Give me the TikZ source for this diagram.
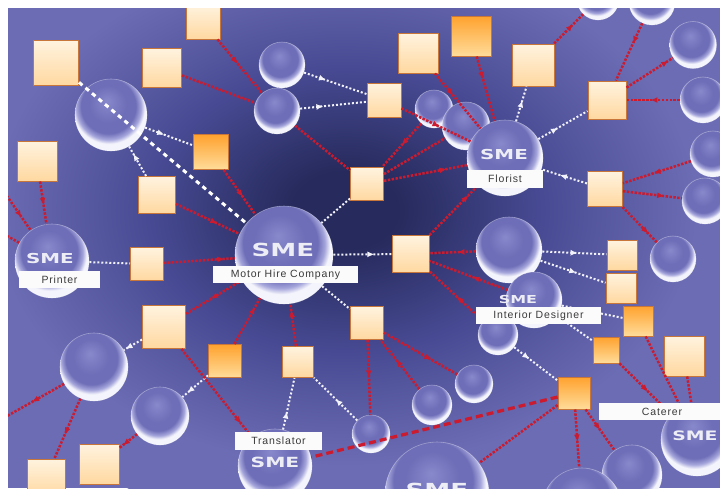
\documentclass[tikz,border=0pt]{standalone}
\usepackage{fontspec}
\usepackage{graphicx}
\usetikzlibrary{arrows.meta,decorations.markings}
\newfontfamily\labfont[LetterSpace=8]{Liberation Sans}
\newfontfamily\smefont{DejaVu Sans}

% palette
\definecolor{bgdark}{HTML}{262A5C}
\definecolor{bgmid}{HTML}{474A92}
\definecolor{bgedge}{HTML}{6C6CB4}
\definecolor{bubA}{HTML}{8888CC}
\definecolor{bubB}{HTML}{6E6EB8}
\definecolor{bubC}{HTML}{A6A6DC}
\definecolor{bubRim}{HTML}{F4F4FC}
\definecolor{sqline}{HTML}{C9763A}
\definecolor{sqtop}{HTML}{FFF3DF}
\definecolor{sqbot}{HTML}{FFD8A0}
\definecolor{ortop}{HTML}{FFA22E}
\definecolor{orbot}{HTML}{FFDC9A}
\definecolor{lred}{HTML}{CC1A2E}
\definecolor{wdot}{HTML}{F2F2FA}
\definecolor{tagtext}{HTML}{3A3A3A}
\definecolor{smetext}{HTML}{EDEDF6}

% glassy sphere: light body, bright crescent along the lower rim
% (the path's bounding box spans the inner 25bp radius of the shading)
\pgfdeclareradialshading{bubble}{\pgfpoint{-3bp}{10bp}}{color(0bp)=(bubA); color(13bp)=(bubB); color(19bp)=(bubB); color(22.5bp)=(bubC); color(25bp)=(bubRim); color(50bp)=(bubRim)}
% backdrop: dark navy core fading to lavender
\pgfdeclareradialshading{backdrop}{\pgfpoint{0bp}{0bp}}{color(0bp)=(bgdark); color(3bp)=(bgdark); color(11bp)=(bgmid); color(20bp)=(bgedge); color(50bp)=(bgedge)}

\newcommand{\smeT}[1]{\scalebox{1.45}[1]{\fontsize{#1}{#1}\selectfont\smefont\bfseries SME}}

\tikzset{
  bub/.style={circle, inner sep=0pt, shading=bubble, draw=white, draw opacity=0.35, line width=0.6pt},
  sqbox/.style={rectangle, inner sep=0pt, minimum size=#1, draw=sqline, line width=1pt, top color=sqtop, bottom color=sqbot},
  orbox/.style={sqbox=#1, top color=ortop, bottom color=orbot},
  rl/.style={color=lred, line width=2.5pt, dash pattern=on 2.4pt off 1.5pt},
  wl/.style={color=wdot, line width=2pt, dash pattern=on 2pt off 2pt},
  wd/.style={color=white, line width=3pt, dash pattern=on 4.5pt off 4pt},
  rd/.style={color=lred, line width=3.2pt, dash pattern=on 7pt off 4pt},
  ma/.style={postaction={decorate, decoration={markings, mark=at position #1 with {\arrow{Latex[length=7pt,width=6pt]}}}}},
  tag/.style={fill=white!97!gray, text=tagtext, inner sep=0pt, minimum height=17.5pt, font=\labfont\fontsize{10.5}{12}\selectfont},
  sme/.style={text=smetext, inner sep=0pt},
}

\begin{document}
\begin{tikzpicture}[x=1pt, y=-1pt]
\useasboundingbox (0,0) rectangle (720,488);
\fill[white] (0,0) rectangle (720,488);
\begin{scope}
\clip (8,8) rectangle (720,488);
\fill[bgedge] (8,8) rectangle (720,488);
\shade[shading=backdrop] (345,210) ellipse [x radius=440, y radius=320];

% ---- spheres ----
\node[bub, minimum size=72pt] (b1) at (111,115) {};
\node[bub, minimum size=46pt] (b2) at (282,65) {};
\node[bub, minimum size=46pt] (b3) at (277,111) {};
\node[bub, minimum size=38pt] (b4) at (434,109) {};
\node[bub, minimum size=48pt] (b5) at (466,126) {};
\node[bub, minimum size=76pt] (fl) at (505,158) {};
\node[bub, minimum size=98pt] (mh) at (284,255) {};
\node[bub, minimum size=42pt] (bt1) at (598,-1) {};
\node[bub, minimum size=46pt] (bt2) at (652,2) {};
\node[bub, minimum size=47pt] (br1) at (693,45) {};
\node[bub, minimum size=46pt] (br2) at (703,100) {};
\node[bub, minimum size=46pt] (br3) at (713,154) {};
\node[bub, minimum size=46pt] (br4) at (705,201) {};
\node[bub, minimum size=66pt] (b6) at (509,250) {};
\node[bub, minimum size=46pt] (b7) at (673,259) {};
\node[bub, minimum size=40pt] (b8) at (498,335) {};
\node[bub, minimum size=56pt] (id) at (534,300) {};
\node[bub, minimum size=38pt] (b9) at (474,384) {};
\node[bub, minimum size=40pt] (b10) at (432,405) {};
\node[bub, minimum size=38pt] (b11) at (371,434) {};
\node[bub, minimum size=104pt] (bb) at (437,494) {};
\node[bub, minimum size=60pt] (b13) at (632,475) {};
\node[bub, minimum size=80pt] (b12) at (582,508) {};
\node[bub, minimum size=72pt] (ct) at (697,440) {};
\node[bub, minimum size=74pt] (tr) at (275,466) {};
\node[bub, minimum size=74pt] (pr) at (52,261) {};
\node[bub, minimum size=68pt] (b14) at (94,367) {};
\node[bub, minimum size=58pt] (b15) at (160,416) {};

% ---- boxes ----
\node[sqbox=34pt] (s1) at (203,22) {};
\node[sqbox=45pt] (s2) at (56,63) {};
\node[sqbox=39pt] (s3) at (162,68) {};
\node[sqbox=40pt] (s4) at (37,161) {};
\node[orbox=35pt] (o1) at (211,152) {};
\node[sqbox=37pt] (s5) at (157,195) {};
\node[sqbox=33pt] (s6) at (367,184) {};
\node[sqbox=40pt] (s7) at (418,53) {};
\node[orbox=40pt] (o2) at (471,36) {};
\node[sqbox=42pt] (s8) at (533,65) {};
\node[sqbox=34pt] (s9) at (384,100) {};
\node[sqbox=38pt] (s10) at (607,100) {};
\node[sqbox=35pt] (s11) at (605,189) {};
\node[sqbox=37pt] (s12) at (411,254) {};
\node[sqbox=30pt] (s13) at (622,255) {};
\node[sqbox=30pt] (s14) at (621,288) {};
\node[orbox=30pt] (o3) at (638,321) {};
\node[sqbox=40pt] (s15) at (684,356) {};
\node[orbox=26pt] (o4) at (606,350) {};
\node[orbox=32pt] (o5) at (574,393) {};
\node[sqbox=33pt] (s16) at (367,323) {};
\node[sqbox=33pt] (s17) at (147,264) {};
\node[sqbox=43pt] (s18) at (164,327) {};
\node[orbox=33pt] (o6) at (225,361) {};
\node[sqbox=31pt] (s19) at (298,362) {};
\node[sqbox=40pt] (s20) at (99,464) {};
\node[sqbox=38pt] (s21) at (46,478) {};

\coordinate (edgeA) at (0,420);
\coordinate (edgeB) at (0,186);
\coordinate (edgeC) at (0,232);

% ---- links ----
\draw[wd] (s2) -- (mh);
\draw[wl, ma=0.4] (b1) -- (o1);
\draw[wl, ma=0.75] (s5) -- (b1);
\draw[rl, ma=0.65] (s5) -- (mh);
\draw[rl, ma=0.6] (o1) -- (mh);
\draw[rl, ma=0.45] (s1) -- (b3);
\draw[rl] (s3) -- (b3);
\draw[rl] (b3) -- (s6);
\draw[wl, ma=0.35] (b2) -- (s9);
\draw[wl, ma=0.35] (b3) -- (s9);
\draw[wl] (s6) -- (mh);
\draw[rl, ma=0.5] (b4) -- (s6);
\draw[rl] (s6) -- (b5);
\draw[rl, ma=0.75] (s6) -- (fl);
\draw[rl, ma=0.55] (s9) -- (fl);
\draw[rl, ma=0.4] (s7) -- (fl);
\draw[rl, ma=0.35] (o2) -- (fl);
\draw[wl, ma=0.6] (fl) -- (s8);
\draw[wl, ma=0.4] (fl) -- (s10);
\draw[wl, ma=0.6] (s11) -- (fl);
\draw[rl, ma=0.8] (s12) -- (fl);
\draw[rl, ma=0.65] (s8) -- (bt1);
\draw[rl, ma=0.35] (bt2) -- (s10);
\draw[rl, ma=0.9] (s10) -- (br1);
\draw[rl, ma=0.55] (br2) -- (s10);
\draw[rl, ma=0.55] (br3) -- (s11);
\draw[rl, ma=0.7] (s11) -- (br4);
\draw[rl, ma=0.75] (s11) -- (b7);
\draw[wl, ma=0.7] (mh) -- (s12);
\draw[rl, ma=0.4] (b6) -- (s12);
\draw[rl, ma=0.45] (id) -- (s12);
\draw[rl, ma=0.5] (b8) -- (s12);
\draw[wl, ma=0.55] (b6) -- (s13);
\draw[wl, ma=0.55] (b6) -- (s14);
\draw[wl, ma=0.5] (id) -- (o3);
\draw[wl] (id) -- (o4);
\draw[wl, ma=0.35] (b8) -- (o5);
\draw[rl] (o3) -- (ct);
\draw[rl, ma=0.55] (o4) -- (ct);
\draw[rl] (s15) -- (ct);
\draw[rd] (o5) -- (tr);
\draw[rl] (o5) -- (bb);
\draw[rl, ma=0.55] (o5) -- (b12);
\draw[rl, ma=0.5] (o5) -- (b13);
\draw[wl] (mh) -- (s16);
\draw[rl, ma=0.5] (s16) -- (b11);
\draw[rl, ma=0.6] (b10) -- (s16);
\draw[rl, ma=0.65] (s16) -- (b9);
\draw[rl, ma=0.85] (s19) -- (mh);
\draw[wl, ma=0.35] (tr) -- (s19);
\draw[wl, ma=0.5] (b11) -- (s19);
\draw[rl, ma=0.8] (o6) -- (mh);
\draw[wl, ma=0.8] (o6) -- (b15);
\draw[rl, ma=0.55] (mh) -- (s18);
\draw[wl, ma=0.9] (s18) -- (b14);
\draw[rl, ma=0.85] (s18) -- (tr);
\draw[wl] (pr) -- (s17);
\draw[rl, ma=0.85] (s17) -- (mh);
\draw[rl, ma=0.5] (b14) -- (edgeA);
\draw[rl, ma=0.6] (b14) -- (s21);
\draw[rl, ma=0.8] (b15) -- (s20);
\draw[rl, ma=0.55] (s4) -- (pr);
\draw[rl, ma=0.7] (edgeB) -- (pr);
\draw[rl] (edgeC) -- (pr);

% ---- SME marks ----
\node[sme] (mhS) at (283,250) {\smeT{18}};
\node[sme] (flS) at (504,155) {\smeT{13.7}};
\node[sme] (prS) at (50,259) {\smeT{13.7}};
\node[sme] (idS) at (518,299) {\smeT{11}};
\node[sme] (ctS) at (695,436) {\smeT{13}};
\node[sme] (trS) at (275,462) {\smeT{14}};
\node[sme] (bbS) at (437,490) {\smeT{18}};

% ---- name tags ----
\node[tag, minimum width=145pt] (mhL) at (285.5,274.5) {Motor Hire Company};
\node[tag, minimum width=81pt] (prL) at (59.5,279.5) {Printer};
\node[tag, minimum width=76pt] (flL) at (505,179) {Florist};
\node[tag, minimum width=125pt] (idL) at (538.5,315.5) {Interior Designer};
\node[tag, minimum width=87pt] (trL) at (278.5,441) {Translator};
\node[tag, minimum width=126pt] (ctL) at (662,411.5) {Caterer};
\end{scope}
\end{tikzpicture}
\end{document}
